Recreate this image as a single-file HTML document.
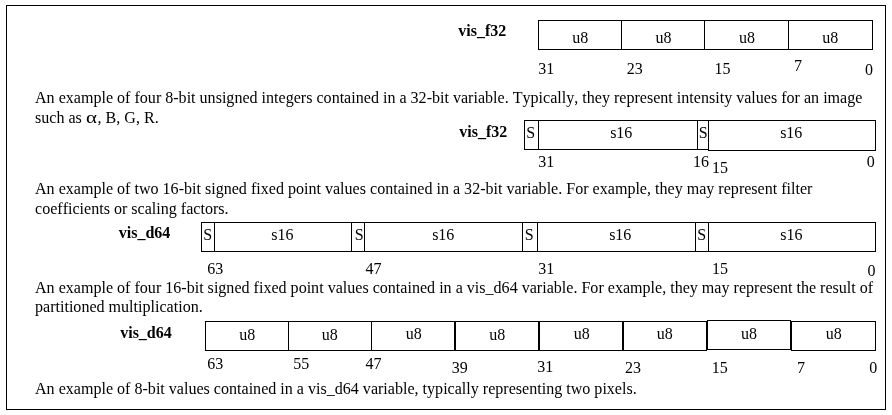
<!DOCTYPE html>
<html><head><meta charset="utf-8"><style>
html,body{margin:0;padding:0;background:#fff;-webkit-font-smoothing:antialiased;}
body{width:892px;height:415px;position:relative;overflow:hidden;font-family:"Liberation Serif",serif;font-size:16px;color:#000;}
.t{position:absolute;white-space:nowrap;line-height:16px;}
.p{font-size:16.07px;font-kerning:none;}
#w{position:absolute;left:0;top:0;width:892px;height:415px;filter:grayscale(1);}
i{position:absolute;display:block;background:#000;}
.alpha{display:inline-block;width:11.7px;}
.alpha span{display:inline-block;transform:scaleX(1.3);transform-origin:0 0;}
</style></head><body><div id="w">
<i style="left:6px;top:5px;width:880px;height:1px"></i>
<i style="left:6px;top:409px;width:880px;height:1px"></i>
<i style="left:6px;top:5px;width:1px;height:405px"></i>
<i style="left:885px;top:5px;width:1px;height:405px"></i>
<span class="t" style="left:458.30px;top:23px;font-weight:bold">vis_f32</span>
<i style="left:538px;top:20px;width:335px;height:1px"></i>
<i style="left:538px;top:49px;width:335px;height:1px"></i>
<i style="left:538px;top:20px;width:1px;height:30px"></i>
<i style="left:872px;top:20px;width:1px;height:30px"></i>
<i style="left:621px;top:20px;width:1px;height:30px"></i>
<i style="left:704px;top:20px;width:1px;height:30px"></i>
<i style="left:788px;top:20px;width:1px;height:30px"></i>
<span class="t" style="left:572.29px;top:30px">u8</span>
<span class="t" style="left:655.39px;top:30px">u8</span>
<span class="t" style="left:739.09px;top:30px">u8</span>
<span class="t" style="left:822.29px;top:30px">u8</span>
<span class="t" style="left:538.13px;top:61px">31</span>
<span class="t" style="left:626.70px;top:61px">23</span>
<span class="t" style="left:714.39px;top:61px">15</span>
<span class="t" style="left:793.95px;top:58px">7</span>
<span class="t" style="left:865.09px;top:62px">0</span>
<span class="t p" style="left:35px;top:90px">An example of four 8-bit unsigned integers contained in a 32-bit variable. Typically, they represent intensity values for an image</span>
<span class="t p" style="left:35px;top:110px">such as <span class="alpha"><span>&alpha;</span></span>, B, G, R.</span>
<span class="t" style="left:459.30px;top:124px;font-weight:bold">vis_f32</span>
<i style="left:524px;top:120px;width:185px;height:1px"></i>
<i style="left:524px;top:149px;width:185px;height:1px"></i>
<i style="left:524px;top:120px;width:1px;height:30px"></i>
<i style="left:708px;top:120px;width:1px;height:30px"></i>
<i style="left:538px;top:120px;width:1px;height:30px"></i>
<i style="left:697px;top:120px;width:1px;height:30px"></i>
<i style="left:708px;top:120px;width:168px;height:1px"></i>
<i style="left:708px;top:150px;width:168px;height:1px"></i>
<i style="left:708px;top:120px;width:1px;height:31px"></i>
<i style="left:875px;top:120px;width:1px;height:31px"></i>
<span class="t" style="left:526.33px;top:125px">S</span>
<span class="t" style="left:610.14px;top:125px">s16</span>
<span class="t" style="left:698.73px;top:125px">S</span>
<span class="t" style="left:780.14px;top:125px">s16</span>
<span class="t" style="left:538.13px;top:154px">31</span>
<span class="t" style="left:692.89px;top:154px">16</span>
<span class="t" style="left:711.99px;top:160px">15</span>
<span class="t" style="left:866.69px;top:154px">0</span>
<span class="t p" style="left:35px;top:181px">An example of two 16-bit signed fixed point values contained in a 32-bit variable. For example, they may represent filter</span>
<span class="t p" style="left:35px;top:201px">coefficients or scaling factors.</span>
<span class="t" style="left:118.80px;top:225px;font-weight:bold">vis_d64</span>
<i style="left:201px;top:222px;width:675px;height:1px"></i>
<i style="left:201px;top:251px;width:675px;height:1px"></i>
<i style="left:201px;top:222px;width:1px;height:30px"></i>
<i style="left:875px;top:222px;width:1px;height:30px"></i>
<i style="left:214px;top:222px;width:1px;height:30px"></i>
<i style="left:351px;top:222px;width:1px;height:30px"></i>
<i style="left:364px;top:222px;width:1px;height:30px"></i>
<i style="left:522px;top:222px;width:1px;height:30px"></i>
<i style="left:537px;top:222px;width:1px;height:30px"></i>
<i style="left:695px;top:222px;width:1px;height:30px"></i>
<i style="left:708px;top:222px;width:1px;height:30px"></i>
<span class="t" style="left:203.23px;top:227px">S</span>
<span class="t" style="left:354.73px;top:227px">S</span>
<span class="t" style="left:524.63px;top:227px">S</span>
<span class="t" style="left:697.23px;top:227px">S</span>
<span class="t" style="left:271.24px;top:227px">s16</span>
<span class="t" style="left:432.14px;top:227px">s16</span>
<span class="t" style="left:609.14px;top:227px">s16</span>
<span class="t" style="left:780.24px;top:227px">s16</span>
<span class="t" style="left:207.21px;top:261px">63</span>
<span class="t" style="left:365.59px;top:261px">47</span>
<span class="t" style="left:538.23px;top:261px">31</span>
<span class="t" style="left:711.99px;top:261px">15</span>
<span class="t" style="left:867.59px;top:263px">0</span>
<span class="t p" style="left:35px;top:280px">An example of four 16-bit signed fixed point values contained in a vis_d64 variable. For example, they may represent the result of</span>
<span class="t p" style="left:35px;top:299px">partitioned multiplication.</span>
<span class="t" style="left:120.20px;top:325px;font-weight:bold">vis_d64</span>
<i style="left:205px;top:321px;width:502px;height:1px"></i>
<i style="left:205px;top:350px;width:502px;height:1px"></i>
<i style="left:205px;top:321px;width:1px;height:30px"></i>
<i style="left:706px;top:321px;width:1px;height:30px"></i>
<i style="left:288px;top:321px;width:1px;height:30px"></i>
<i style="left:371px;top:321px;width:1px;height:30px"></i>
<i style="left:454px;top:321px;width:2px;height:30px"></i>
<i style="left:538px;top:321px;width:2px;height:30px"></i>
<i style="left:622px;top:321px;width:2px;height:30px"></i>
<i style="left:707px;top:320px;width:84px;height:1px"></i>
<i style="left:707px;top:349px;width:84px;height:1px"></i>
<i style="left:707px;top:320px;width:1px;height:30px"></i>
<i style="left:790px;top:320px;width:1px;height:30px"></i>
<i style="left:791px;top:321px;width:85px;height:1px"></i>
<i style="left:791px;top:350px;width:85px;height:1px"></i>
<i style="left:791px;top:321px;width:1px;height:30px"></i>
<i style="left:875px;top:321px;width:1px;height:30px"></i>
<span class="t" style="left:239.19px;top:327px">u8</span>
<span class="t" style="left:321.69px;top:327px">u8</span>
<span class="t" style="left:405.69px;top:326px">u8</span>
<span class="t" style="left:489.19px;top:327px">u8</span>
<span class="t" style="left:573.69px;top:326px">u8</span>
<span class="t" style="left:656.79px;top:326px">u8</span>
<span class="t" style="left:741.09px;top:326px">u8</span>
<span class="t" style="left:825.69px;top:326px">u8</span>
<span class="t" style="left:207.21px;top:356px">63</span>
<span class="t" style="left:293.17px;top:356px">55</span>
<span class="t" style="left:365.39px;top:356px">47</span>
<span class="t" style="left:451.83px;top:360px">39</span>
<span class="t" style="left:537.13px;top:359px">31</span>
<span class="t" style="left:624.90px;top:360px">23</span>
<span class="t" style="left:711.69px;top:360px">15</span>
<span class="t" style="left:797.05px;top:360px">7</span>
<span class="t" style="left:869.19px;top:360px">0</span>
<span class="t p" style="left:35px;top:381px">An example of 8-bit values contained in a vis_d64 variable, typically representing two pixels.</span>
</div></body></html>
